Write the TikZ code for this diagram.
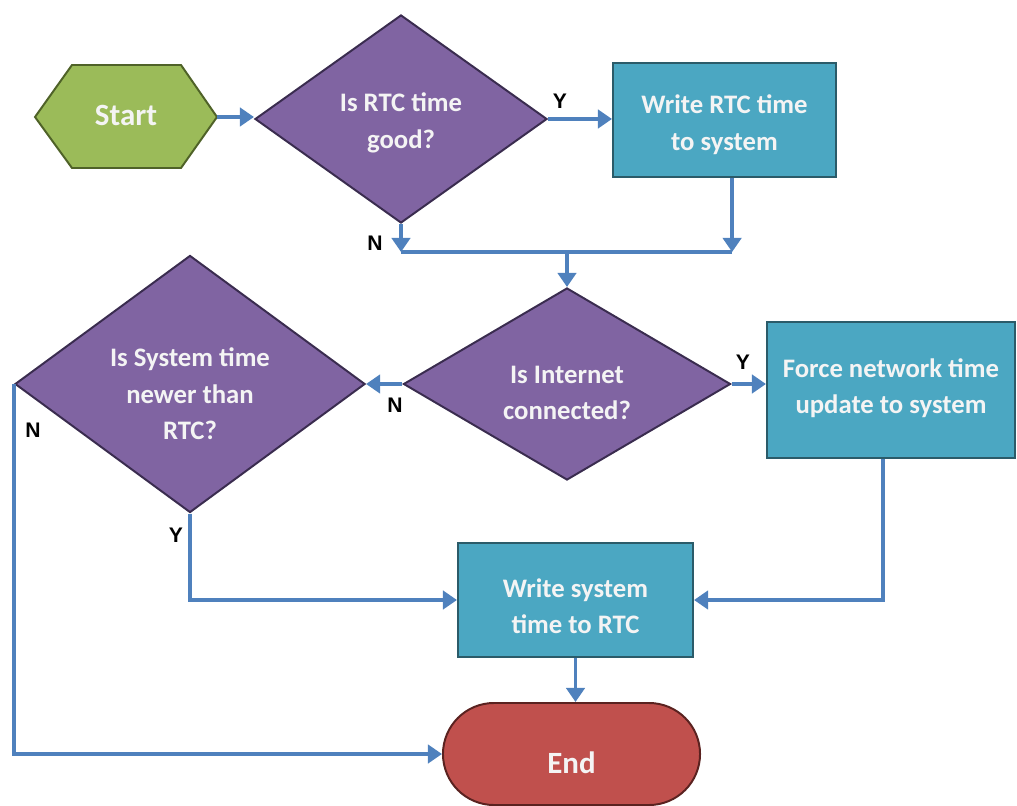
\documentclass[tikz,border=0pt]{standalone}
\usepackage{fontspec}
\setmainfont{Carlito}
\newfontfamily\labelfont{Liberation Sans}
\usetikzlibrary{shapes.geometric,shapes.misc,arrows.meta}

\definecolor{startfill}{HTML}{9BBB59}
\definecolor{startline}{HTML}{4F6228}
\definecolor{decfill}{HTML}{8064A2}
\definecolor{decline}{HTML}{3A2C4F}
\definecolor{procfill}{HTML}{4BA7C2}
\definecolor{procline}{HTML}{2B5B69}
\definecolor{endfill}{HTML}{C0504D}
\definecolor{endline}{HTML}{5A2220}
\definecolor{flow}{HTML}{4F81BD}
\definecolor{boxtext}{HTML}{F4F4F4}

\tikzset{
  txt/.style={text=boxtext, font=\bfseries\fontsize{19}{26}\selectfont, align=center, inner sep=0pt},
  bigtxt/.style={txt, font=\bfseries\fontsize{22}{26}\selectfont},
  % shape text placed at the centre, nudged down by #1 (in cm)
  caption/.style 2 args={label={[#1]center:#2}},
  decision/.style={diamond, draw=decline, fill=decfill, line width=1.4pt, inner sep=0pt},
  process/.style={rectangle, draw=procline, fill=procfill, line width=1.4pt, inner sep=0pt},
  terminal/.style={rounded rectangle, draw=endline, fill=endfill, line width=1.4pt, inner sep=0pt},
  conn/.style={draw=flow, line width=2.8pt},
  arrow/.style={conn, -{Triangle[length=10pt,width=13pt]}},
  yn/.style={font=\labelfont\bfseries\fontsize{15}{18}\selectfont, text=black, inner sep=0pt}
}

\begin{document}
\begin{tikzpicture}[x=0.025cm, y=-0.025cm]
\useasboundingbox (0,0) rectangle (1017,806);

% start hexagon
\filldraw[fill=startfill, draw=startline, line width=1.4pt]
  (35,117) -- (72,65) -- (181,65) -- (217,117) -- (181,168) -- (72,168) -- cycle;
\node[inner sep=0pt, minimum width=4.55cm, minimum height=2.6cm,
      caption={bigtxt, yshift=0.05cm}{Start}] (start) at (126,117) {};

% decisions
\node[decision, minimum width=7.3cm, minimum height=5.2cm,
      caption={txt, yshift=-0.1cm}{Is RTC time\\good?}] (d1) at (401,119) {};
\node[decision, minimum width=8.175cm, minimum height=4.8cm,
      caption={txt, yshift=-0.22cm}{Is Internet\\connected?}] (d2) at (567,384) {};
\node[decision, minimum width=8.75cm, minimum height=6.425cm,
      caption={txt, yshift=-0.25cm}{Is System time\\newer than\\RTC?}] (d3) at (190,384) {};

% processes
\node[process, minimum width=5.575cm, minimum height=2.85cm,
      caption={txt, yshift=-0.12cm}{Write RTC time\\to system}] (b1) at (724.5,120) {};
\node[process, minimum width=6.2cm, minimum height=3.4cm,
      caption={txt, yshift=0.05cm}{Force network time\\update to system}] (b2) at (891,390) {};
\node[process, minimum width=5.875cm, minimum height=2.85cm,
      caption={txt, yshift=-0.15cm}{Write system\\time to RTC}] (b3) at (575.5,600) {};

% end terminal
\node[terminal, minimum width=6.425cm, minimum height=2.55cm,
      caption={bigtxt, yshift=-0.22cm}{End}] (end) at (571.5,754) {};

% merge point below the first decision
\coordinate (merge) at (567,252);

% connectors
\draw[arrow] (start.east) -- (start.east -| d1.west);
\draw[arrow] (d1.east) -- (d1.east -| b1.west);
\draw[arrow] (d1.south) -- (d1.south |- merge);
\draw[arrow] ([xshift=0.19cm]b1.south) -- ([xshift=0.19cm]b1.south |- merge);
\draw[conn] (d1.south |- merge) -- ([xshift=0.19cm]b1.south |- merge);
\draw[arrow] (merge) -- (d2.north);
\draw[arrow] (d2.east) -- (d2.east -| b2.west);
\draw[arrow] (d2.west) -- (d3.east);
\draw[arrow] (d3.south) -- (d3.south |- b3.west) -- (b3.west);
\draw[arrow] (d3.west) -- (d3.west |- end.west) -- (end.west);
\draw[arrow] ([xshift=-0.2cm]b2.south) -- ([xshift=-0.2cm]b2.south |- b3.east) -- (b3.east);
\draw[arrow] (b3.south) -- (b3.south |- end.north);

% branch labels
\node[yn] (y1) at (560,101) {Y};
\node[yn] (n1) at (375,243) {N};
\node[yn] (y2) at (743,362) {Y};
\node[yn] (n2) at (395,405) {N};
\node[yn] (y3) at (176,535) {Y};
\node[yn] (n3) at (33,430) {N};
\end{tikzpicture}
\end{document}
